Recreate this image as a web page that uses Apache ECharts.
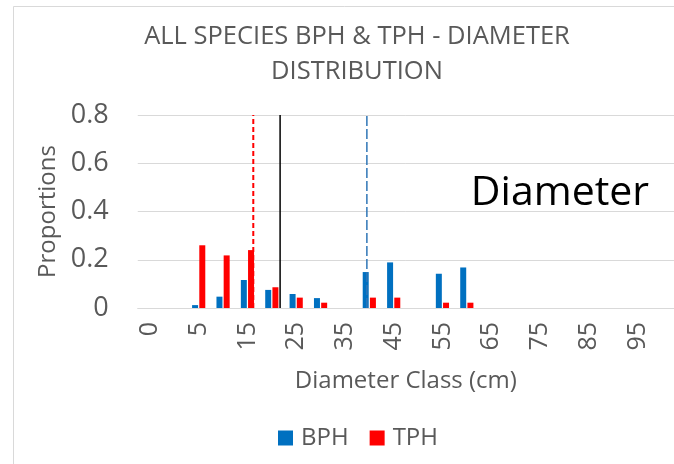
<!DOCTYPE html>
<html>
<head>
<meta charset="utf-8">
<script src="https://cdn.jsdelivr.net/npm/echarts@6/dist/echarts.min.js"></script>
<style>
  html, body { margin: 0; padding: 0; background: #fff; }
  #chart { width: 674px; height: 464px; }
</style>
</head>
<body>
<div id="chart"></div>
<script>
// Diameter classes (cm); labels are shown on every other class
const diameterClasses = ['0', '2.5', '5', '10', '15', '20', '25', '30', '35', '40', '45', '50',
  '55', '60', '65', '70', '75', '80', '85', '90', '95', '100'];

// Proportion of basal area per hectare in each class
const bphValues = [0, 0, 0.012, 0.047, 0.116, 0.075, 0.058, 0.041, 0, 0.149, 0.189, 0,
  0.142, 0.168, 0, 0, 0, 0, 0, 0, 0, 0];

// Proportion of trees per hectare in each class
const tphValues = [0, 0, 0.26, 0.218, 0.24, 0.086, 0.043, 0.022, 0, 0.043, 0.043, 0,
  0.022, 0.022, 0, 0, 0, 0, 0, 0, 0, 0];

// Reference diameters (cm) drawn as vertical lines
const tphMeanDiameter = 16.2;
const quadraticMeanDiameter = 21.7;
const bphMeanDiameter = 39.5;

const yTicks = { min: 0, max: 0.8, interval: 0.2 };

const GRAY = '#595959';
const FONT = "'Open Sans', 'Noto Sans', sans-serif";

// The category axis runs one class-width per category; a hidden value axis in cm
// lines up with it so the reference lines sit at their true diameters.
const firstLabelCm = 5, classStep = 5, firstLabelIdx = 2;
const cmAt = idx => firstLabelCm + (idx - firstLabelIdx) * classStep;
const cmMin = cmAt(-0.5);
const cmMax = cmAt(diameterClasses.length - 0.5);

function vline(name, x, color, type, width) {
  return {
    name: name,
    type: 'line',
    xAxisIndex: 1,
    yAxisIndex: 0,
    data: [[x, yTicks.min], [x, yTicks.max]],
    symbol: 'none',
    silent: true,
    lineStyle: { color: color, width: width, type: type },
    z: 5
  };
}

const chart = echarts.init(document.getElementById('chart'), null, { renderer: 'canvas' });

chart.setOption({
  backgroundColor: '#ffffff',
  animation: false,
  textStyle: { fontFamily: FONT },
  title: {
    text: 'ALL SPECIES BPH & TPH - DIAMETER\nDISTRIBUTION',
    left: 352,
    top: 14,
    textAlign: 'center',
    textStyle: { fontFamily: FONT, fontSize: 25.5, fontWeight: 'normal', color: GRAY, lineHeight: 35 }
  },
  graphic: [
    {
      type: 'rect',
      shape: { x: 13.5, y: 6.5, width: 700, height: 500 },
      style: { fill: 'none', stroke: '#d9d9d9', lineWidth: 1 },
      silent: true,
      z: -1
    },
    {
      type: 'text',
      x: 560,
      y: 193,
      style: {
        text: 'Diameter',
        fontFamily: FONT,
        fontSize: 41,
        fill: '#000000',
        align: 'center',
        verticalAlign: 'middle'
      },
      z: 10
    }
  ],
  legend: {
    data: ['BPH', 'TPH'],
    left: 273,
    top: 421,
    icon: 'rect',
    itemWidth: 15,
    itemHeight: 15,
    itemGap: 21,
    textStyle: { fontFamily: FONT, fontSize: 24, color: GRAY, padding: [0, 0, 0, 3] }
  },
  grid: { left: 137.75, top: 115, width: 24.5 * diameterClasses.length, height: 193, containLabel: false },
  xAxis: [
    {
      type: 'category',
      data: diameterClasses,
      boundaryGap: true,
      name: 'Diameter Class (cm)',
      nameLocation: 'middle',
      nameGap: 61,
      nameTextStyle: { fontFamily: FONT, fontSize: 24, color: GRAY },
      axisLine: { lineStyle: { color: '#d9d9d9' } },
      axisTick: { show: false },
      axisLabel: {
        interval: 1,
        rotate: 90,
        margin: 14,
        fontFamily: FONT,
        fontSize: 25,
        color: GRAY
      },
      splitLine: { show: false }
    },
    {
      type: 'value',
      min: cmMin,
      max: cmMax,
      show: false,
      position: 'bottom'
    }
  ],
  yAxis: {
    type: 'value',
    min: yTicks.min,
    max: yTicks.max,
    interval: yTicks.interval,
    name: 'Proportions',
    nameLocation: 'middle',
    nameGap: 75,
    nameTextStyle: { fontFamily: FONT, fontSize: 24, color: GRAY },
    axisLine: { show: false },
    axisTick: { show: false },
    axisLabel: {
      margin: 29,
      fontFamily: FONT,
      fontSize: 27,
      color: GRAY,
      formatter: v => (v === 0 ? '0' : v.toFixed(1))
    },
    splitLine: { lineStyle: { color: '#d9d9d9', width: 1 } }
  },
  series: [
    {
      name: 'BPH',
      type: 'bar',
      data: bphValues,
      barWidth: 6,
      barGap: '20%',
      itemStyle: { color: '#0070c0' }
    },
    {
      name: 'TPH',
      type: 'bar',
      data: tphValues,
      barWidth: 6,
      barGap: '20%',
      itemStyle: { color: '#ff0000' }
    },
    vline('TPH mean diameter', tphMeanDiameter, '#ff0000', [5, 3], 2),
    vline('Quadratic mean diameter', quadraticMeanDiameter, '#000000', 'solid', 1.5),
    vline('BPH mean diameter', bphMeanDiameter, '#2e75b6', [10, 3], 1.5)
  ]
});
</script>
</body>
</html>
